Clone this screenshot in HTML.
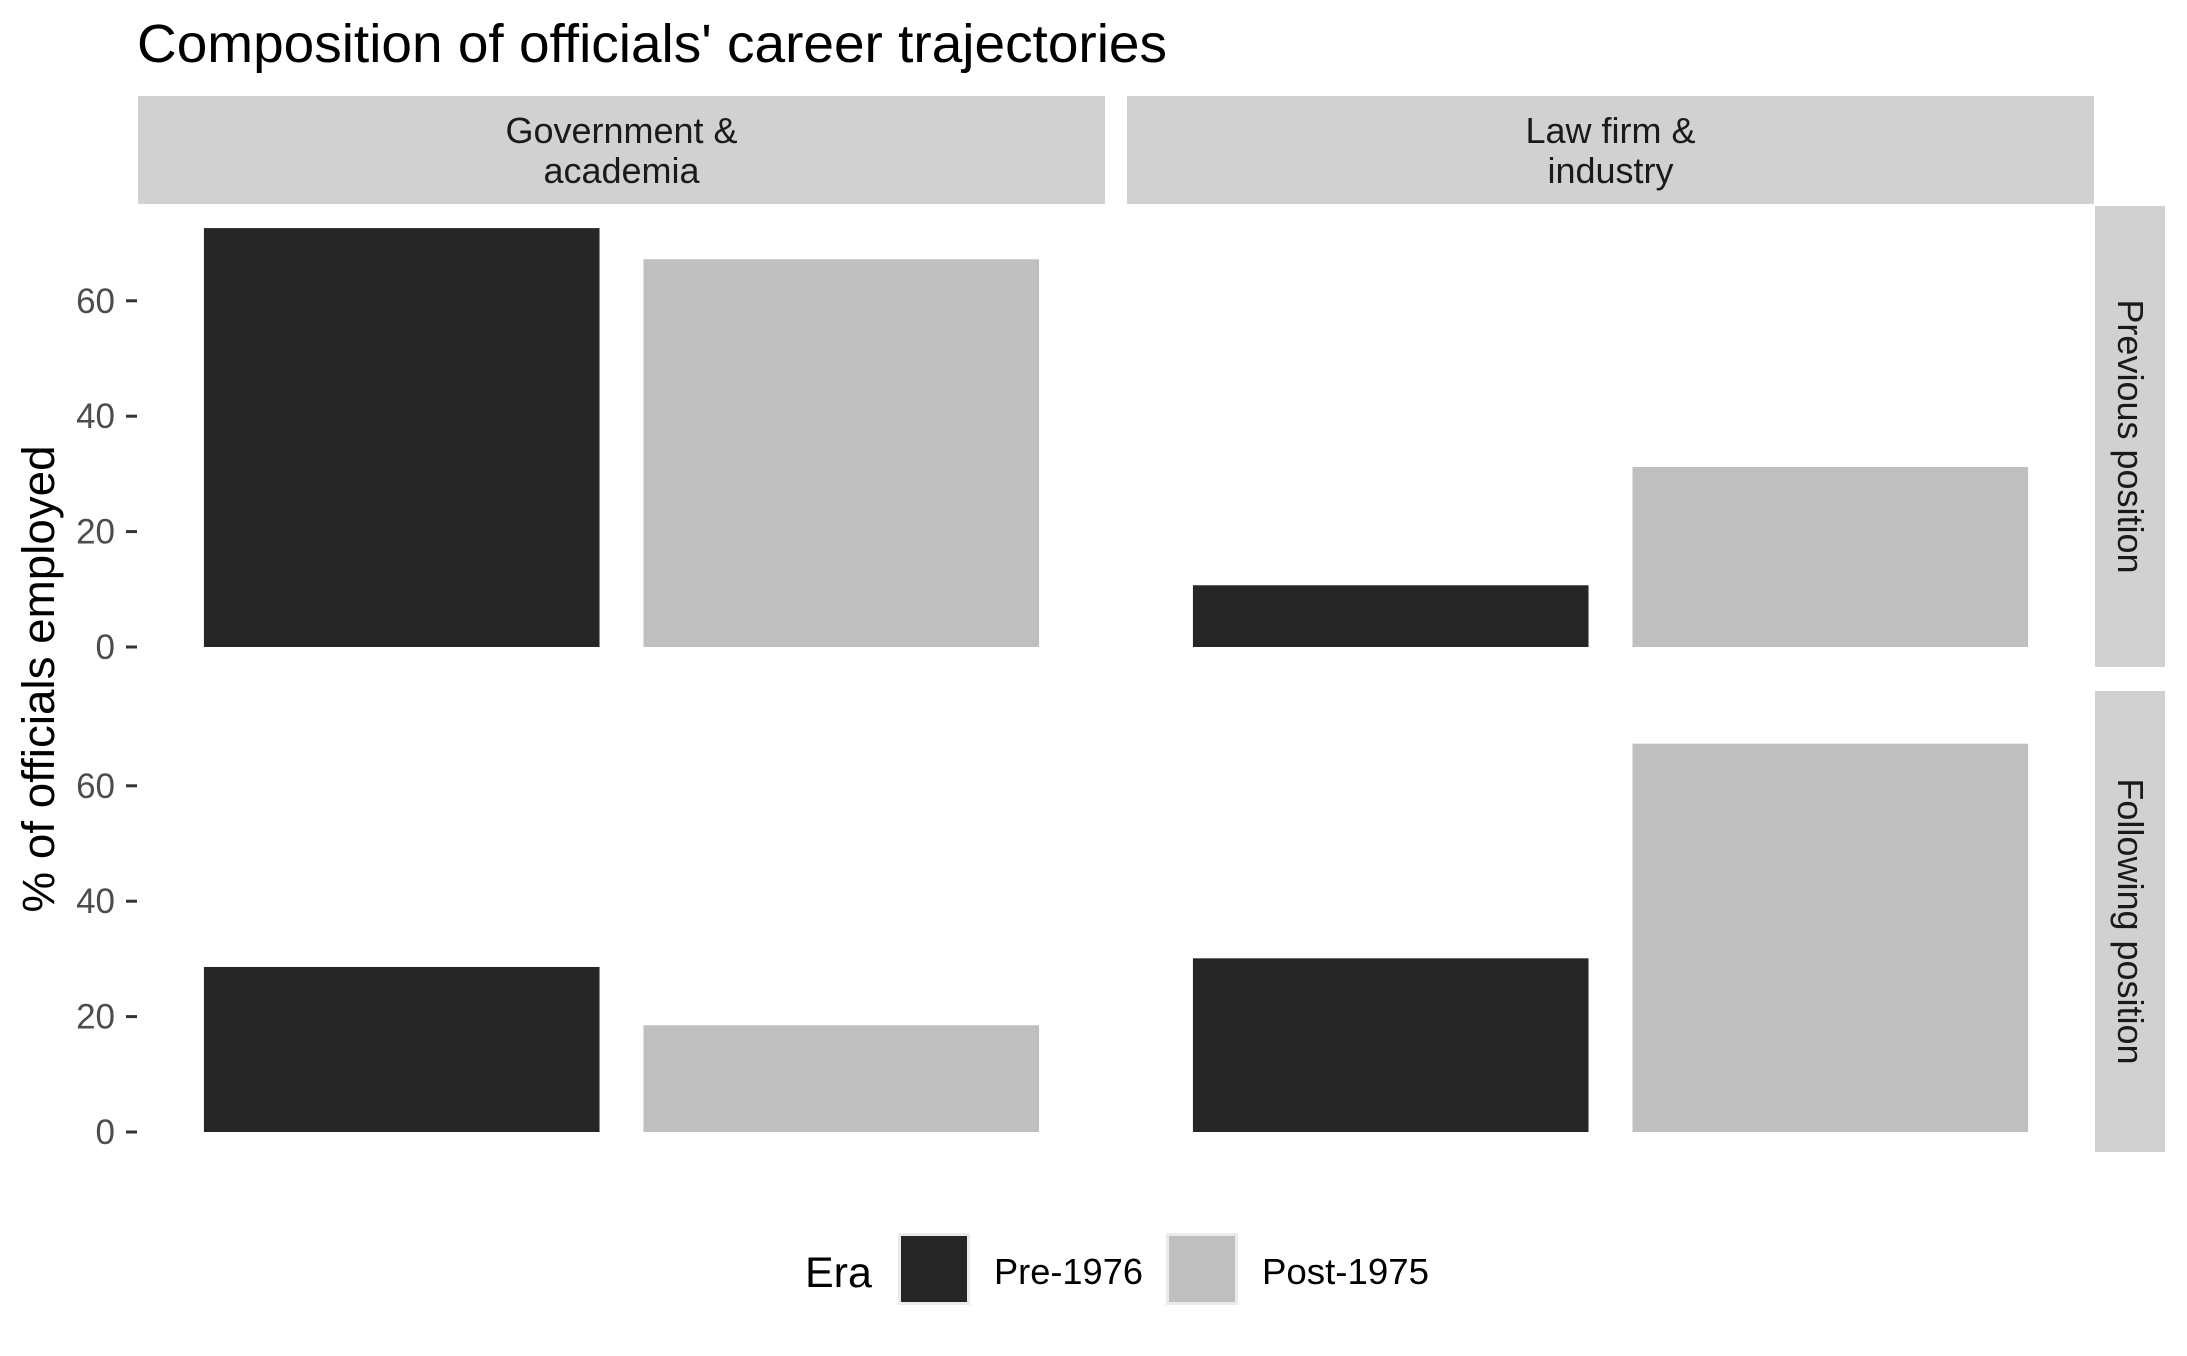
<!DOCTYPE html>
<html><head><meta charset="utf-8"><style>
html,body{margin:0;padding:0;background:#fff;}
svg text{font-family:"Liberation Sans",Arial,sans-serif;}
</style></head><body>
<svg id="chart" width="2187" height="1351" viewBox="0 0 2187 1351" xmlns="http://www.w3.org/2000/svg">
<rect width="2187" height="1351" fill="#fff"/>
<text x="137" y="62" font-size="54" textLength="1030" lengthAdjust="spacingAndGlyphs" fill="#000">Composition of officials' career trajectories</text>
<text transform="translate(54,679) rotate(-90)" text-anchor="middle" font-size="45" textLength="467" lengthAdjust="spacingAndGlyphs" fill="#000">% of officials employed</text>
<g id="plot"></g>
<g>
<text x="805" y="1287" font-size="43" fill="#000">Era</text>
<rect x="898" y="1233" width="72" height="72" fill="#ebebeb"/>
<rect x="901" y="1236" width="66" height="66" fill="#262626"/>
<text x="994" y="1284" font-size="36" textLength="149" lengthAdjust="spacingAndGlyphs" fill="#000">Pre-1976</text>
<rect x="1166" y="1233" width="72" height="72" fill="#ebebeb"/>
<rect x="1169" y="1236" width="66" height="66" fill="#bfbfbf"/>
<text x="1262" y="1284" font-size="36" textLength="167" lengthAdjust="spacingAndGlyphs" fill="#000">Post-1975</text>
</g>
</svg>
<script>
const colFacets = ["Government &\nacademia", "Law firm &\nindustry"];
const rowFacets = ["Previous position", "Following position"];
const eras = ["Pre-1976", "Post-1975"];
const prevPre = [72.6, 10.7];
const prevPost = [67.2, 31.2];
const follPre = [28.6, 30.1];
const follPost = [18.5, 67.3];
const yTicks = [0, 20, 40, 60];

const NS = "http://www.w3.org/2000/svg";
const g = document.getElementById('plot');
function mk(tag, attrs, parent){const e=document.createElementNS(NS,tag);for(const k in attrs)e.setAttribute(k,attrs[k]);(parent||g).appendChild(e);return e;}
const colX = [138, 1127], colW = 967;
const rowY = [206, 691], rowH = 461;
const pxPerUnit = 5.77, zeroOff = 20;
function yScale(r, v){ return rowY[r] + rowH - zeroOff - v*pxPerUnit; }
const step = colW/2.2;
function xCenter(c, i){ return colX[c] + (i + 0.6)*step; }
const barW = 0.9*step;
const data = [[prevPre, prevPost],[follPre, follPost]];
const fills = ["#262626", "#bfbfbf"];

colFacets.forEach((lab, c) => {
  const s = mk('rect', {x: colX[c], y: 96, width: colW, height: 108, fill: '#d1d1d1'});
  
  
  lab.split('\n').forEach((ln, k) => {
    const t = mk('text', {x: colX[c] + colW/2, y: 143 + k*40, 'text-anchor': 'middle', 'font-size': 36, fill: '#1a1a1a'});
    t.textContent = ln;
    
    
  });
});
rowFacets.forEach((lab, r) => {
  const s = mk('rect', {x: 2095, y: rowY[r], width: 70, height: rowH, fill: '#d1d1d1'});
  
  
  const cx = 2118, cy = rowY[r] + rowH/2;
  const t = mk('text', {transform: `translate(${cx},${cy}) rotate(90)`, 'text-anchor': 'middle', 'font-size': 36, fill: '#1a1a1a'});
  t.textContent = lab;
  
  
  yTicks.forEach(v => {
    const y = yScale(r, v);
    const tk = mk('line', {x1: 126, x2: 137, y1: y, y2: y, stroke: '#333', 'stroke-width': 3});
    
    
    const tl = mk('text', {x: 115, y: y + 12, 'text-anchor': 'end', 'font-size': 35, fill: '#4d4d4d'});
    tl.textContent = v;
    
    
  });
  colFacets.forEach((_, c) => {
    eras.forEach((era, i) => {
      const v = data[r][i][c];
      const y0 = yScale(r, 0), y1 = yScale(r, v);
      const b = mk('rect', {x: xCenter(c, i) - barW/2, y: y1, width: barW, height: y0 - y1, fill: fills[i]});
      
      
    });
  });
});
</script>
</body></html>
